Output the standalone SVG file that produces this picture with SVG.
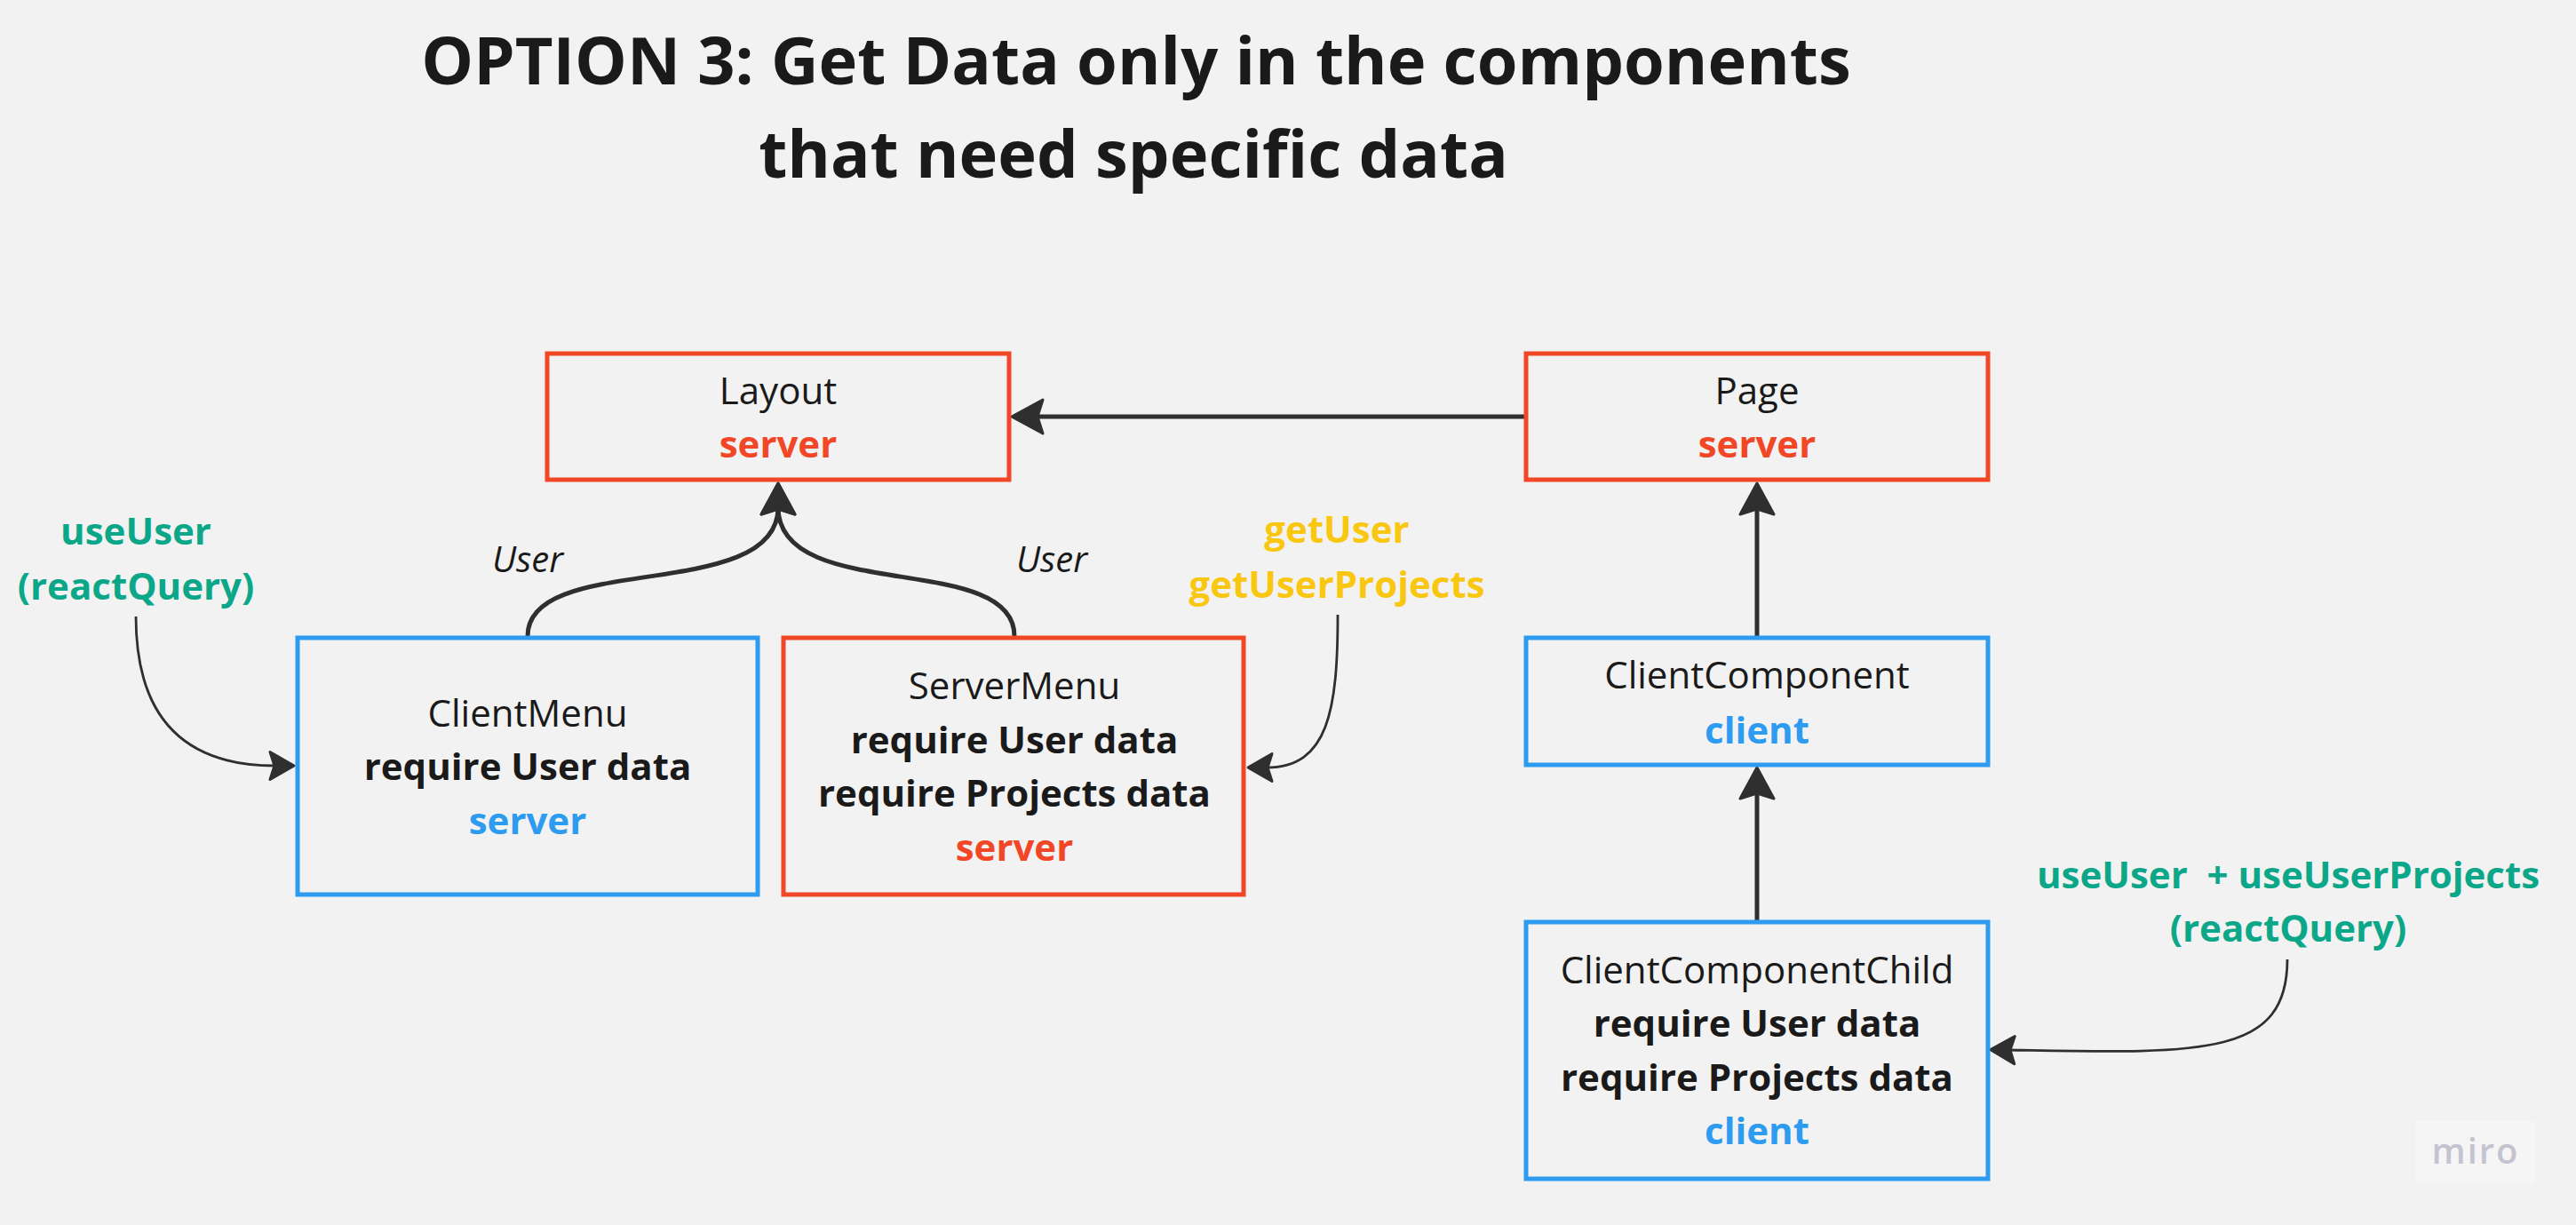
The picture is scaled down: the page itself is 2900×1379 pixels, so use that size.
<svg xmlns="http://www.w3.org/2000/svg" width="2900" height="1379" viewBox="0 0 2900 1379">
<style>
.bg{fill:#f2f2f2}
.box{fill:none;stroke-width:5}
.red{stroke:#f24726}
.blue{stroke:#2d9bf0}
text{font-family:"Open Sans","Noto Sans","Liberation Sans",sans-serif;text-anchor:middle}
.title{font-size:74px;font-weight:700;fill:#1a1a1a}
.n{font-size:42px;fill:#1a1a1a}
.b{font-weight:700}
.tr{fill:#f24726;font-weight:700}
.tb{fill:#2d9bf0;font-weight:700}
.lbl{font-size:42px;font-weight:700}
.green{fill:#0ca789}
.yellow{fill:#fac710}
.it{font-size:40px;font-style:italic;fill:#1a1a1a}
.thick{fill:none;stroke:#2f2f2f;stroke-width:5}
.thin{fill:none;stroke:#2f2f2f;stroke-width:2.8}
</style>
<defs>
<marker id="ah" markerUnits="userSpaceOnUse" viewBox="-15 -25 50 50" markerWidth="50" markerHeight="50" refX="0" refY="0" orient="auto">
<path d="M 27 0 L -8 -19 L -2 0 L -8 19 Z" fill="#2f2f2f" stroke="#2f2f2f" stroke-width="3" stroke-linejoin="round"/>
</marker>
<marker id="as" markerUnits="userSpaceOnUse" viewBox="-15 -25 50 50" markerWidth="50" markerHeight="50" refX="0" refY="0" orient="auto">
<path d="M 21 0 L -6 -15.5 L -1 0 L -6 15.5 Z" fill="#2f2f2f" stroke="#2f2f2f" stroke-width="3" stroke-linejoin="round"/>
</marker>
</defs>
<rect class="bg" x="0" y="0" width="2900" height="1379"/>
<g id="title">
<text class="title" x="1279" y="95">OPTION 3: Get Data only in the components</text>
<text class="title" x="1276" y="200">that need specific data</text>
</g>
<g id="connectors">
<path class="thick" d="M 1716 469 L 1166 469" marker-end="url(#ah)"/>
<path class="thick" d="M 594 716 C 594 620, 876 680, 876 571" marker-end="url(#ah)"/>
<path class="thick" d="M 1142 716 C 1142 620, 876 680, 876 571" marker-end="url(#ah)"/>
<path class="thick" d="M 1978 716 L 1978 571" marker-end="url(#ah)"/>
<path class="thick" d="M 1978 1036 L 1978 891" marker-end="url(#ah)"/>
<path class="thin" d="M 153 694 C 153 800, 200 862, 310 862" marker-end="url(#as)"/>
<path class="thin" d="M 1506 692 C 1506 800, 1495 864, 1426 864" marker-end="url(#as)"/>
<path class="thin" d="M 2575 1080 C 2575 1190, 2480 1186, 2262 1182" marker-end="url(#as)"/>
<text class="it" x="594" y="644">User</text>
<text class="it" x="1184" y="644">User</text>
</g>
<g id="layout">
<rect class="box red" x="616" y="398" width="520" height="142"/>
<text class="n" x="876" y="455">Layout</text>
<text class="n tr" x="876" y="515">server</text>
</g>
<g id="page">
<rect class="box red" x="1718" y="398" width="520" height="142"/>
<text class="n" x="1978" y="455">Page</text>
<text class="n tr" x="1978" y="515">server</text>
</g>
<g id="clientmenu">
<rect class="box blue" x="335" y="718" width="518" height="289"/>
<text class="n" x="594" y="818">ClientMenu</text>
<text class="n b" x="594" y="878">require User data</text>
<text class="n tb" x="594" y="939">server</text>
</g>
<g id="servermenu">
<rect class="box red" x="882" y="718" width="518" height="289"/>
<text class="n" x="1142" y="787">ServerMenu</text>
<text class="n b" x="1142" y="848">require User data</text>
<text class="n b" x="1142" y="908">require Projects data</text>
<text class="n tr" x="1142" y="969">server</text>
</g>
<g id="clientcomponent">
<rect class="box blue" x="1718" y="718" width="520" height="143"/>
<text class="n" x="1978" y="775">ClientComponent</text>
<text class="n tb" x="1978" y="837">client</text>
</g>
<g id="clientcomponentchild">
<rect class="box blue" x="1718" y="1038" width="520" height="289"/>
<text class="n" x="1978" y="1107">ClientComponentChild</text>
<text class="n b" x="1978" y="1167">require User data</text>
<text class="n b" x="1978" y="1228">require Projects data</text>
<text class="n tb" x="1978" y="1288">client</text>
</g>
<g id="label-useuser">
<text class="lbl green" x="153" y="613">useUser</text>
<text class="lbl green" x="153" y="675">(reactQuery)</text>
</g>
<g id="label-getuser">
<text class="lbl yellow" x="1505" y="611">getUser</text>
<text class="lbl yellow" x="1505" y="673">getUserProjects</text>
</g>
<g id="label-useuserprojects">
<text class="lbl green" x="2576" y="1000" xml:space="preserve">useUser  + useUserProjects</text>
<text class="lbl green" x="2576" y="1060">(reactQuery)</text>
</g>
<g id="watermark">
<rect x="2719" y="1262" width="135" height="71" fill="#f5f5f5"/>
<text x="2787" y="1310" font-size="40" font-weight="600" fill="#c4c3d0" letter-spacing="2">miro</text>
</g>
</svg>
